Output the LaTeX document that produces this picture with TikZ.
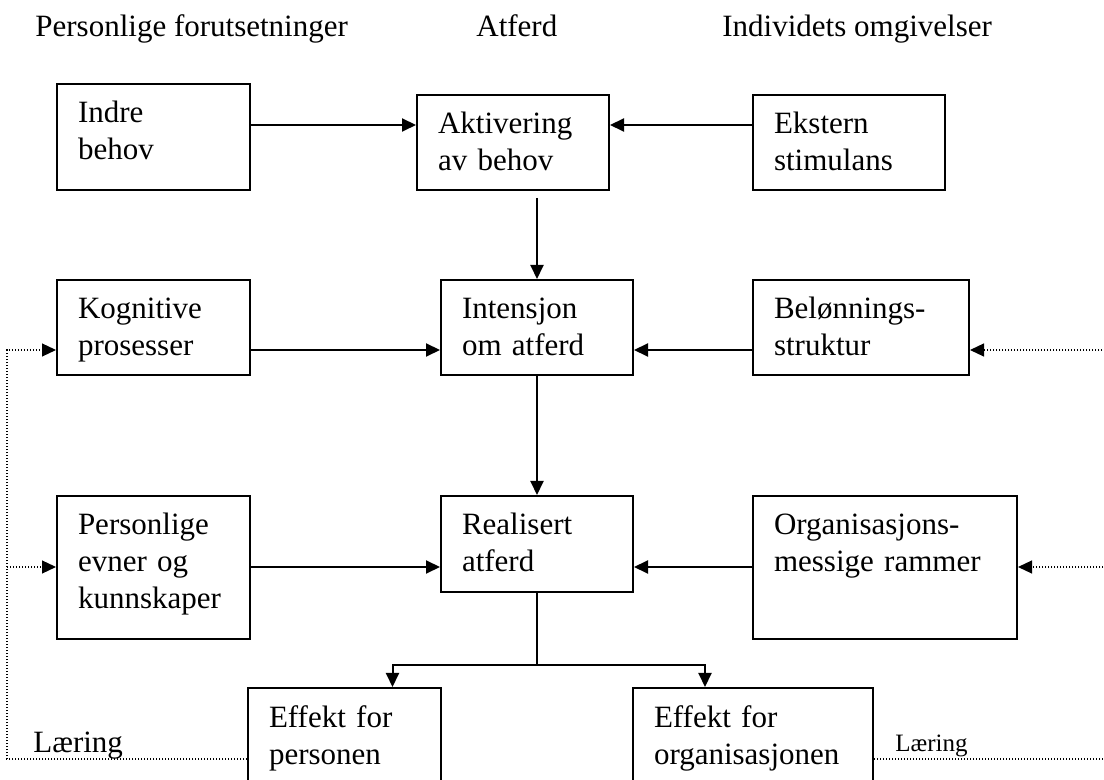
\documentclass[tikz,border=0pt]{standalone}
\usepackage{fontspec}
\setmainfont{Liberation Serif}
\usetikzlibrary{arrows.meta, positioning}
\tikzset{
  boks/.style={draw, line width=1pt, anchor=north west, align=left,
    inner xsep=10.5pt, inner ysep=0pt, text height=19.5pt,
    font=\fontsize{15.5}{18.5}\selectfont},
  linje/.style={line width=1pt},
  pil/.style={-{Triangle[length=7pt,width=6.5pt]}},
  prikk/.style={line width=0.6pt, dash pattern=on 0.6pt off 0.9pt},
  overskrift/.style={anchor=base west, inner sep=0pt,
    font=\fontsize{15.5}{18.5}\selectfont}
}

\begin{document}
\begin{tikzpicture}[x=0.5pt, y=-0.5pt]
    \useasboundingbox (0,0) rectangle (1104,780);
    % overskrifter
    \node[overskrift] (hpers) at (35,37) {Personlige forutsetninger};
    \node[overskrift] (hatf) at (476,37) {Atferd};
    \node[overskrift] (homg) at (722,37) {Individets omgivelser};

    % rad 1
    \node[boks, text width=75.5pt, text depth=33.5pt] (indre) at (56,83) {Indre\\behov};
    \node[boks, text width=75pt, text depth=28pt] (akt) at (416,94) {Aktivering\\av behov};
    \node[boks, text width=75pt, text depth=28pt] (ekst) at (752,94) {Ekstern\\stimulans};
    % rad 2
    \node[boks, text width=75.5pt, text depth=28pt] (kogn) at (56,279) {Kognitive\\prosesser};
    \node[boks, text width=75pt, text depth=28pt] (int) at (440,279) {Intensjon\\om atferd};
    \node[boks, text width=87pt, text depth=28pt] (belon) at (752,279) {Belønnings-\\struktur};
    % rad 3
    \node[boks, text width=75.5pt, text depth=52pt] (evner) at (56,495) {Personlige\\evner og\\kunnskaper};
    \node[boks, text width=75pt, text depth=28.5pt] (real) at (440,495) {Realisert\\atferd};
    \node[boks, text width=111pt, text depth=52pt] (org) at (752,495) {Organisasjons-\\messige rammer};
    % effekter
    \node[boks, text width=75.5pt, text depth=40pt] (effp) at (247,687) {Effekt for\\personen};
    \node[boks, text width=99pt, text depth=40pt] (effo) at (632,687) {Effekt for\\organisasjonen};

    \node[overskrift] (laerv) at (33,752) {Læring};
    \node[overskrift, font=\fontsize{12.5}{15}\selectfont] (laerh) at (895,751) {Læring};

    \coordinate (rad1) at (0,125);
    \coordinate (rad2) at (0,350);
    \coordinate (rad3) at (0,567);
    \coordinate (gren) at ([yshift=-36pt]real.south);
    \coordinate (bunn) at (0,759);
    \coordinate (venstre) at (7,759);
    \coordinate (hoyre) at (1106,759);

    % piler
    \draw[linje, pil] (indre.east |- rad1) -- (akt.west |- rad1);
    \draw[linje, pil] (ekst.west |- rad1) -- (akt.east |- rad1);
    \draw[linje, pil] ([yshift=-3.5pt]akt.south -| int.north) -- (int.north);
    \draw[linje, pil] (kogn.east |- rad2) -- (int.west |- rad2);
    \draw[linje, pil] (belon.west |- rad2) -- (int.east |- rad2);
    \draw[linje, pil] (int.south) -- (real.north);
    \draw[linje, pil] (evner.east |- rad3) -- (real.west |- rad3);
    \draw[linje, pil] (org.west |- rad3) -- (real.east |- rad3);
    \draw[linje] (real.south) -- (gren);
    \draw[linje, pil] (gren) -| ([xshift=24pt]effp.north);
    \draw[linje, pil] (gren) -| ([xshift=-24pt]effo.north);

    % læring tilbake
    \draw[prikk, pil] (effp.west |- bunn) -- (venstre) |- (kogn.west |- rad2);
    \draw[prikk, pil] (venstre |- rad3) -- (evner.west |- rad3);
    \draw[prikk, pil] (effo.east |- bunn) -- (hoyre) |- (belon.east |- rad2);
    \draw[prikk, pil] (hoyre |- rad3) -- (org.east |- rad3);
\end{tikzpicture}
\end{document}
